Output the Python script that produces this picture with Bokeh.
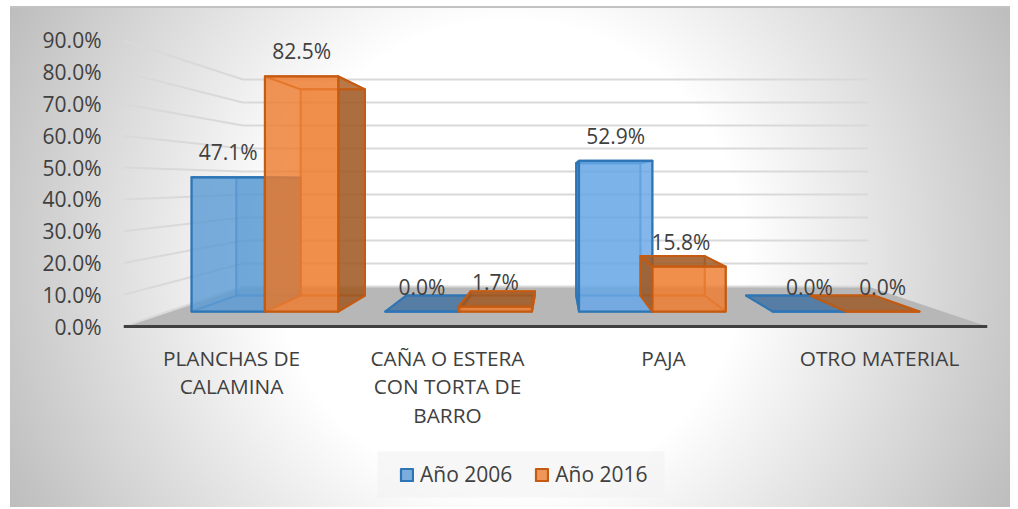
from bokeh.embed import file_html
from bokeh.resources import INLINE
from bokeh.plotting import figure
from bokeh.models import BoxAnnotation, ColumnDataSource, FixedTicker, Legend, LegendItem, PrintfTickFormatter, Range1d
from bokeh.core.properties import value

# ---- data ----
categories = ["PLANCHAS DE\nCALAMINA", "CAÑA O ESTERA\nCON TORTA DE\nBARRO", "PAJA", "OTRO MATERIAL"]
series_names = ["Año 2006", "Año 2016"]
anio_2006 = [47.1, 0.0, 52.9, 0.0]
anio_2016 = [82.5, 1.7, 15.8, 0.0]
y_ticks = [0, 10, 20, 30, 40, 50, 60, 70, 80, 90]

# ---- styles ----
FONT = "Open Sans"
TEXT = "#404040"
FILLS = ["#5b9bd5", "#ed7d31"]
BAR_FILLS = [["#5b9bd5", "#5b9bd5", "#68a8e6", "#5b9bd5"], ["#ed7d31", "#ed7d31", "#ed7d31", "#ed7d31"]]
DARKS = ["#3d6f9f", "#9a5520"]
EDGES = ["#2e75b6", "#c55a11"]
label_dx = [[0, 0, 0, 0], [0, 0, -8, 0]]

# ---- perspective of the 3-D chart, in data units ----
VP_X, VP_Y = 2.0, 45.56       # vanishing point
S_FRONT, S_BACK = 1.0, 0.7237 # floor front edge / back wall
S_BAR_F, S_BAR_B = 0.8968, 0.7866
BAR_L = 0.1213                # gap inside a category
BAR_W = 0.3787


def proj(x, v, s):
    return VP_X + s * (x - VP_X), VP_Y + s * (v - VP_Y)


def face(points):
    xy = [proj(*pt) for pt in points]
    return [a for a, _ in xy], [b for _, b in xy]


n = len(categories)
PX_X, PX_Y = 216.0, 3.178     # pixels per data unit
YTOP = (326 - 20) / PX_Y
YBOT = -(505 - 326) / PX_Y

p = figure(width=1000, height=501, x_range=Range1d(0, n), y_range=Range1d(YBOT, YTOP),
           toolbar_location=None, output_backend="svg",
           min_border_left=113, min_border_right=23, min_border_top=14, min_border_bottom=2)
p.margin = (6, 0, 0, 10)
p.border_fill_alpha = 0
p.background_fill_alpha = 0
p.outline_line_color = None
p.grid.visible = False
p.styles = {"background": "linear-gradient(#c2c2c2,#c2c2c2) 0 0/100% 2px no-repeat, "
                          "radial-gradient(circle 559px at 50% 50%, #ffffff 42%, #bdbdbd 100%)"}

# y axis
p.yaxis.ticker = FixedTicker(ticks=y_ticks)
p.yaxis.formatter = PrintfTickFormatter(format="%.1f%%")
p.yaxis.axis_line_color = None
p.yaxis.major_tick_line_color = None
p.yaxis.minor_tick_line_color = None
p.yaxis.major_label_standoff = 16
p.yaxis.major_label_text_font = FONT
p.yaxis.major_label_text_font_size = "21px"
p.yaxis.major_label_text_color = TEXT

# x axis
p.xaxis.fixed_location = 0
p.xaxis.ticker = FixedTicker(ticks=[i + 0.5 for i in range(n)])
p.xaxis.major_label_overrides = {i + 0.5: c for i, c in enumerate(categories)}
p.xaxis.axis_line_color = "#404040"
p.xaxis.axis_line_width = 3
p.xaxis.major_tick_line_color = None
p.xaxis.minor_tick_line_color = None
p.xaxis.major_label_standoff = 11
p.xaxis.major_label_text_font = FONT
p.xaxis.major_label_text_font_size = "20.8px"
p.xaxis.major_label_text_line_height = 1.03
p.xaxis.major_label_text_color = TEXT
p.xaxis.major_label_orientation = "horizontal"

# floor
fx, fy = face([(0, 0, S_FRONT), (0, 0, S_BACK), (n, 0, S_BACK), (n, 0, S_FRONT)])
p.patch(fx, fy, fill_color="#b7b7b7", line_color=None)

# wall grid lines
gx, gy = [], []
for t in y_ticks:
    a = proj(0, t, S_FRONT)
    b = proj(0, t, S_BACK)
    c = proj(n, t, S_BACK)
    gx.append([a[0], b[0], c[0]])
    gy.append([a[1], b[1], c[1]])
p.multi_line(gx, gy, line_color="#d9d9d9", line_width=2)

# bars
front_renderers = []
lab_x, lab_y, lab_t, lab_o = [], [], [], []
for si, vals in enumerate([anio_2006, anio_2016]):
    inner = dict(xs=[], ys=[], fill=[], fa=[], la=[])

    def add(points, fill, fa, la):
        xs, ys = face(points)
        inner["xs"].append(xs)
        inner["ys"].append(ys)
        inner["fill"].append(fill)
        inner["fa"].append(fa)
        inner["la"].append(la)

    fxs, fys = [], []
    for i, v in enumerate(vals):
        x0 = i + BAR_L + si * BAR_W
        x1 = x0 + BAR_W
        F, B = S_BAR_F, S_BAR_B
        c = BAR_FILLS[si][i]
        # back, bottom
        add([(x0, 0, B), (x1, 0, B), (x1, v, B), (x0, v, B)], c, 0.35 if v else 0, 0.55)
        add([(x0, 0, F), (x1, 0, F), (x1, 0, B), (x0, 0, B)], c, 0.2 if v else 0, 0.55)
        # sides: an outer face is dark, an inner one nearly clear
        right_outer = proj(x1, 0, F)[0] < proj(x1, 0, B)[0]
        left_outer = proj(x0, 0, F)[0] > proj(x0, 0, B)[0]
        if v:
            add([(x1, 0, F), (x1, 0, B), (x1, v, B), (x1, v, F)],
                DARKS[si] if right_outer else c, 0.8 if right_outer else 0.1, 1 if right_outer else 0.5)
            add([(x0, 0, F), (x0, 0, B), (x0, v, B), (x0, v, F)],
                DARKS[si] if left_outer else c, 0.8 if left_outer else 0.1, 1 if left_outer else 0.5)
        # top
        top_seen = proj(x0, v, B)[1] > proj(x0, v, F)[1]
        add([(x0, v, F), (x1, v, F), (x1, v, B), (x0, v, B)],
            DARKS[si] if top_seen else c, 0.8 if top_seen else 0.2, 1)
        xs, ys = face([(x0, 0, F), (x1, 0, F), (x1, v, F), (x0, v, F)])
        fxs.append(xs)
        fys.append(ys)
        cx, cy = proj((x0 + x1) / 2, v, F)
        lab_x.append(cx)
        lab_y.append(cy)
        lab_t.append(f"{v:.1f}%")
        lab_o.append(label_dx[si][i])
    p.patches("xs", "ys", source=ColumnDataSource(inner), fill_color="fill", fill_alpha="fa",
              line_color=EDGES[si], line_alpha="la", line_width=2, line_join="round")
    p.patches(fxs[2:3], fys[2:3], fill_color=BAR_FILLS[si][2], fill_alpha=0.8, line_color=None)
    r = p.patches(fxs[:2] + fxs[3:], fys[:2] + fys[3:], fill_color=FILLS[si], fill_alpha=0.8,
                  line_color=EDGES[si], line_width=2.2, line_join="round")
    p.patches(fxs[2:3], fys[2:3], fill_alpha=0, line_color=EDGES[si], line_width=2.2, line_join="round")
    front_renderers.append(r)

# data labels
p.text("x", "y", "t", source=ColumnDataSource(dict(x=lab_x, y=lab_y, t=lab_t, o=lab_o)),
       x_offset="o", y_offset=-25, text_align="center", text_baseline="middle",
       text_font=value(FONT), text_font_size="21px", text_color=TEXT)

# legend panel and legend
p.add_layout(BoxAnnotation(left=(377 - 123) / PX_X, right=(664 - 123) / PX_X,
                           bottom=(326 - 497) / PX_Y, top=(326 - 451) / PX_Y,
                           fill_color="#f2f2f2", fill_alpha=0.6, line_color=None, level="underlay"))
legend = Legend(items=[LegendItem(label=series_names[k], renderers=[front_renderers[k]]) for k in range(2)],
                orientation="horizontal", location=(276, 17))
legend.background_fill_alpha = 0
legend.border_line_color = None
legend.glyph_width = 15
legend.glyph_height = 15
legend.label_standoff = 6
legend.spacing = 22
legend.padding = 9
legend.margin = 0
legend.label_text_font = FONT
legend.label_text_font_size = "21px"
legend.label_text_color = TEXT
p.add_layout(legend)

open("out.html", "w").write(file_html(p, INLINE))
